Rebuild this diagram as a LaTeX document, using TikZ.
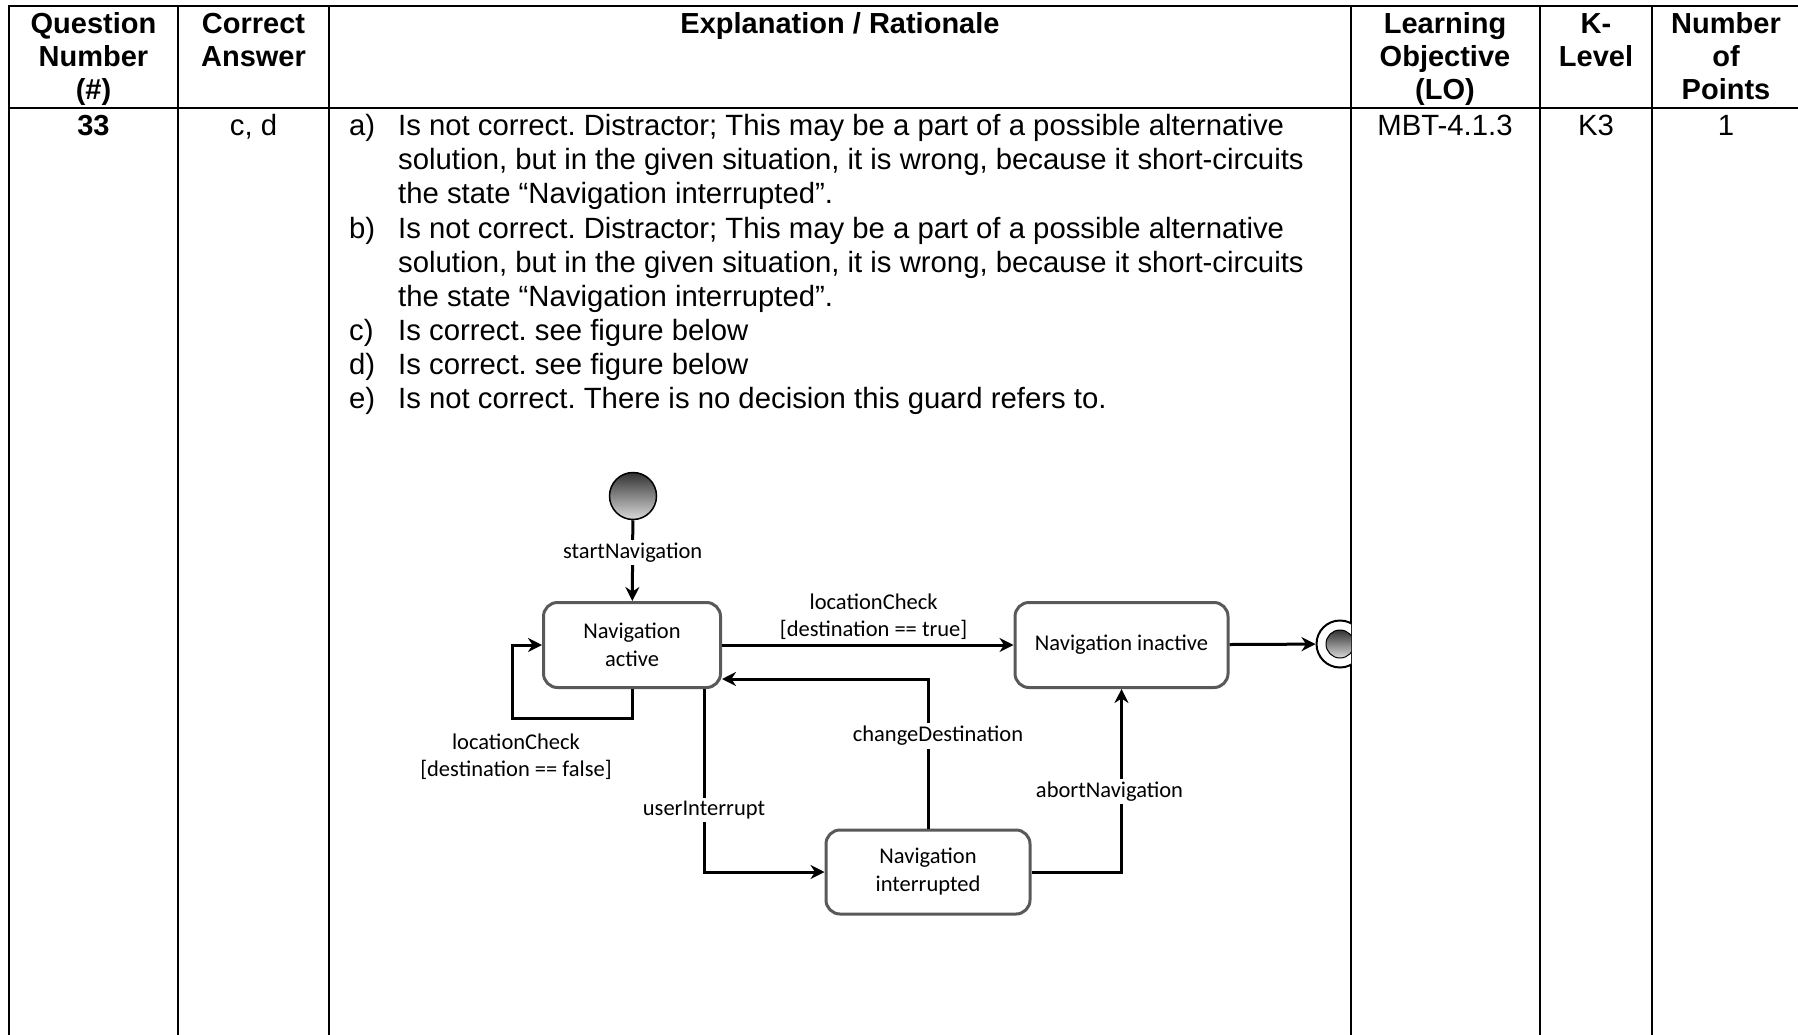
\documentclass[tikz,border=0pt]{standalone}
\usepackage{fontspec}
\setmainfont{Liberation Sans}
\newfontfamily\diafont{Carlito}
\usetikzlibrary{arrows.meta,positioning}
\frenchspacing

\tikzset{
  grid/.style={line width=2pt},
  head/.style={font=\bfseries\fontsize{29}{33}\selectfont, align=center, anchor=base, inner sep=0pt},
  cell/.style={font=\fontsize{29.3}{34}\selectfont, anchor=base, inner sep=0pt},
  item/.style={font=\fontsize{29.3}{34}\selectfont, anchor=base west, align=left, inner sep=0pt},
  state/.style={draw=black!65, line width=3pt, rounded corners=14pt, fill=white,
    font=\diafont\fontsize{22.5}{28}\selectfont, align=center, minimum height=85pt},
  initial/.style={circle, draw, line width=1.5pt, minimum size=47pt, inner sep=0pt,
    top color=black!80, bottom color=black!15},
  final/.style={circle, draw, line width=2pt, minimum size=47pt, inner sep=0pt, fill=white},
  trans/.style={line width=3pt, -{Stealth[length=14pt,width=14pt]}},
  lbl/.style={font=\diafont\fontsize{22.5}{27}\selectfont, fill=white, align=center, inner sep=3pt},
}

\begin{document}
\begin{tikzpicture}[x=1pt,y=-1pt]
\useasboundingbox (0,0) rectangle (1798,1035);

% table
\draw[grid] (9,1035) -- (9,6) -- (1798,6);
\draw[grid] (9,108) -- (1798,108);
\foreach \xc in {178,329,1351,1540,1652}
  \draw[grid] (\xc,6) -- (\xc,1035);

% header (base = last line)
\node[head] (hnum) at (93.5,100) {Question\\Number\\(\#)};
\node[head] (hans) at (253.5,67) {Correct\\Answer};
\node[head] (hexp) at (840,34) {Explanation / Rationale};
\node[head] (hlo) at (1445,100) {Learning\\Objective\\(LO)};
\node[head] (hk) at (1596,67) {K-\\Level};
\node[head] (hpts) at (1726,100) {Number\\of\\Points};

% row
\node[cell,font=\bfseries\fontsize{29}{34}\selectfont] (qnum) at (93.5,136) {33};
\node[cell] (ans) at (253.5,136) {c, d};
\node[cell] (lo) at (1445,136) {MBT-4.1.3};
\node[cell] (klev) at (1596,136) {K3};
\node[cell] (pts) at (1726,136) {1};

\node[item] (ma) at (349,136) {a)};
\node[item] (ta) at (398,204) {Is not correct. Distractor; This may be a part of a possible alternative\\solution, but in the given situation, it is wrong, because it short-circuits\\the state “Navigation interrupted”.};
\node[item] (mb) at (349,238) {b)};
\node[item] (tb) at (398,306) {Is not correct. Distractor; This may be a part of a possible alternative\\solution, but in the given situation, it is wrong, because it short-circuits\\the state “Navigation interrupted”.};
\node[item] (mc) at (349,340) {c)};
\node[item] (tc) at (398,340) {Is correct. see figure below};
\node[item] (md) at (349,374) {d)};
\node[item] (td) at (398,374) {Is correct. see figure below};
\node[item] (me) at (349,408) {e)};
\node[item] (te) at (398,408) {Is not correct. There is no decision this guard refers to.};

% state machine
\begin{scope}
\clip (329,108) rectangle (1351,1035);
\node[initial] (init) at (633,496) {};
\node[state, minimum width=177pt] (act) at (632,645) {Navigation\\active};
\node[state, minimum width=213pt] (inact) at (1121.5,645) {Navigation inactive};
\node[state, minimum width=204pt, minimum height=84pt] (intr) at (928,872) {Navigation\\interrupted};
\node[final] (fin) at (1340,644) {};
\shade[top color=black!80, bottom color=black!15, draw, line width=1pt] (fin.center) circle (14);

\draw[trans] (init) -- (act) node[lbl, pos=0.4] (lstart) {startNavigation};
\draw[trans] (act) -- (inact) node[lbl, pos=0.52, above=1pt, fill=none] (ltrue) {locationCheck\\[0pt][destination == true]};
\draw[trans] (act.south) -- ++(0,29) -| ([xshift=-30pt]act.west) -- (act.west);
\node[lbl, fill=none] (lfalse) at (516,757) {locationCheck\\[0pt][destination == false]};
\draw[trans] ([xshift=72pt]act.south) |- (intr.west) node[lbl, pos=0.33] (luser) {userInterrupt};
\draw[trans] (intr.north) |- ([yshift=-34pt]act.east) node[lbl, pos=0.31, xshift=10pt] (lchange) {changeDestination};
\draw[trans] (intr.east) -| (inact.south) node[lbl, pos=0.72, xshift=-12pt] (labort) {abortNavigation};
\draw[trans] (inact) -- (fin);
\end{scope}
\end{tikzpicture}
\end{document}
